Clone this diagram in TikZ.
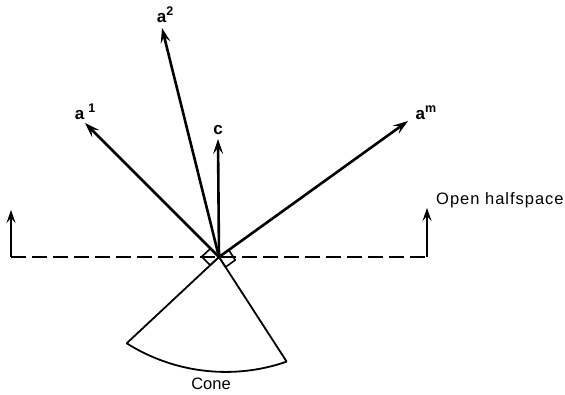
\documentclass[tikz,border=0pt]{standalone}
\usepackage{fontspec}
\setmainfont{Liberation Sans}
\usetikzlibrary{arrows.meta,calc}
\newcommand{\supr}[1]{\raisebox{7pt}{\fontsize{12.5}{14}\selectfont #1}}
\begin{document}
\begin{tikzpicture}[x=1pt,y=1pt,
  vec/.style={line width=2.6pt,-{Stealth[length=15pt,width=10pt,inset=6pt]}},
  tickarrow/.style={line width=2pt,-{Stealth[length=13pt,width=9pt,inset=5pt]}},
  halfline/.style={line width=2.2pt,dash pattern=on 15pt off 6pt},
  conel/.style={line width=1.8pt,line join=round},
  ramark/.style={line width=1.6pt,line join=round},
  lab/.style={font=\fontsize{17}{20}\selectfont\bfseries,inner sep=0pt},
  txt/.style={font=\fontsize{16.5}{19}\selectfont,inner sep=0pt}]
\useasboundingbox (0,0) rectangle (565,395);
% points
\coordinate (O) at (219,138);
\coordinate (a1) at (85,272);
\coordinate (a2) at (162,367);
\coordinate (c) at (218,256);
\coordinate (am) at (408,274);
\coordinate (Lc) at (11,138);
\coordinate (Lt) at (11,185);
\coordinate (Rc) at (427,138);
\coordinate (Rt) at (427,187);
\coordinate (CL) at (126.7,51.7);
\coordinate (CR) at (286.7,33.3);
% half space boundary
\draw[halfline] (Lc) -- (Rc);
\draw[tickarrow] (Lc) -- (Lt);
\draw[tickarrow] (Rc) -- (Rt);
% cone
\draw[conel] (CR) -- (O) -- (CL) arc[start angle=237.75,end angle=289.2,radius=185.6pt];
% right-angle marks
\draw[ramark] (O) -- ($(O)!12pt!(a1)$) -- ($($(O)!12pt!(a1)$)+($(O)!12pt!(CL)-(O)$)$) -- ($(O)!12pt!(CL)$) -- cycle;
\draw[ramark] (O) -- ($(O)!12pt!(am)$) -- ($($(O)!12pt!(am)$)+($(O)!12pt!(CR)-(O)$)$) -- ($(O)!12pt!(CR)$) -- cycle;
% vectors
\draw[vec] (O) -- (a1);
\draw[vec] (O) -- (a2);
\draw[vec] (O) -- (c);
\draw[vec] (O) -- (am);
% labels
\node[lab] (la1) at (85,283) {a\hspace{4pt}\supr{1}};
\node[lab] (la2) at (165,380) {a\supr{2}};
\node[lab] (lc) at (218,265) {c};
\node[lab] (lam) at (426,282) {a\supr{m}};
\node[txt,anchor=west] (lopen) at (436,195) {\addfontfeatures{LetterSpace=6}Open halfspace};
\node[txt] (lcone) at (211,11) {Cone};
\end{tikzpicture}
\end{document}
